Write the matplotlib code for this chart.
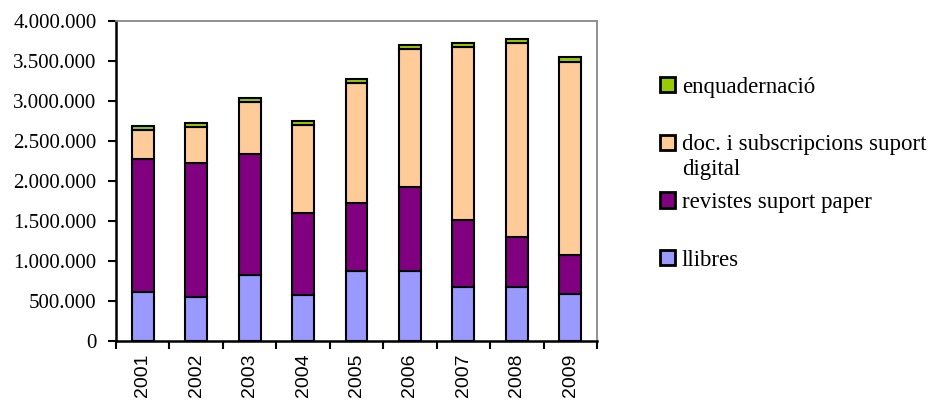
import matplotlib
matplotlib.use("Agg")
from matplotlib import pyplot as plt
from matplotlib.ticker import FuncFormatter, FixedLocator
import numpy as np

years = ["2001", "2002", "2003", "2004", "2005", "2006", "2007", "2008", "2009"]
llibres = [610000, 550000, 825000, 575000, 875000, 875000, 680000, 680000, 585000]
revistes = [1665000, 1675000, 1515000, 1025000, 845000, 1045000, 830000, 620000, 490000]
digital = [365000, 445000, 650000, 1100000, 1500000, 1730000, 2170000, 2430000, 2415000]
enquadernacio = [50000, 50000, 50000, 55000, 55000, 50000, 50000, 45000, 55000]

series = [
    ("llibres", llibres, "#9999FF"),
    ("revistes suport paper", revistes, "#800080"),
    ("doc. i subscripcions suport", digital, "#FFCC99"),
    ("enquadernació", enquadernacio, "#99CC00"),
]

serif = ["Liberation Serif", "DejaVu Serif"]

fig = plt.figure(figsize=(9.38, 4.03), dpi=100)
ax = fig.add_axes([0.1237, 0.1538, 0.5128, 0.7941])

x = np.arange(len(years))
bottom = np.zeros(len(years))
handles = []
for label, vals, color in series:
    b = ax.bar(x, vals, width=0.41, bottom=bottom, color=color,
               edgecolor="black", linewidth=1.5, label=label)
    handles.append(b)
    bottom += np.array(vals)

ax.set_xlim(-0.5, len(years) - 0.5)
ax.set_ylim(0, 4000000)
ax.set_yticks(np.arange(0, 4000001, 500000))
ax.yaxis.set_major_formatter(FuncFormatter(lambda v, p: f"{int(v):,}".replace(",", ".")))
for t in ax.get_yticklabels():
    t.set_fontfamily(serif)
    t.set_fontsize(15)

ax.set_xticks(x)
ax.set_xticklabels(years, rotation=90, fontsize=14, family="Liberation Sans")
ax.tick_params(axis="x", which="major", length=0, pad=9)
ax.xaxis.set_minor_locator(FixedLocator(np.arange(-0.5, len(years))))
ax.tick_params(axis="x", which="minor", length=6, width=1.5, color="black")
ax.tick_params(axis="y", length=6, width=1.5, color="black", pad=8)

ax.spines["left"].set_linewidth(1.8)
ax.spines["bottom"].set_linewidth(1.8)
ax.spines["top"].set_color("#888888")
ax.spines["right"].set_color("#888888")
ax.spines["top"].set_linewidth(1.3)
ax.spines["right"].set_linewidth(1.3)

leg = fig.legend(handles[::-1], [s[0] for s in series][::-1],
                 loc="upper left", bbox_to_anchor=(0.694, 0.8325),
                 frameon=False, prop={"family": serif, "size": 16.5},
                 handlelength=0.65, handleheight=0.65, handletextpad=0.3,
                 labelspacing=1.6, borderaxespad=0)
for h in leg.legend_handles:
    h.set_linewidth(2)

# second line of the digital label, placed under the first one
fig.canvas.draw()
bb = leg.get_texts()[1].get_window_extent()
fig.text(bb.x0 / fig.bbox.width, (bb.y0 - 4) / fig.bbox.height, "digital",
         va="top", ha="left", family=serif, fontsize=16.5)

fig.savefig("out.png", dpi=100)
